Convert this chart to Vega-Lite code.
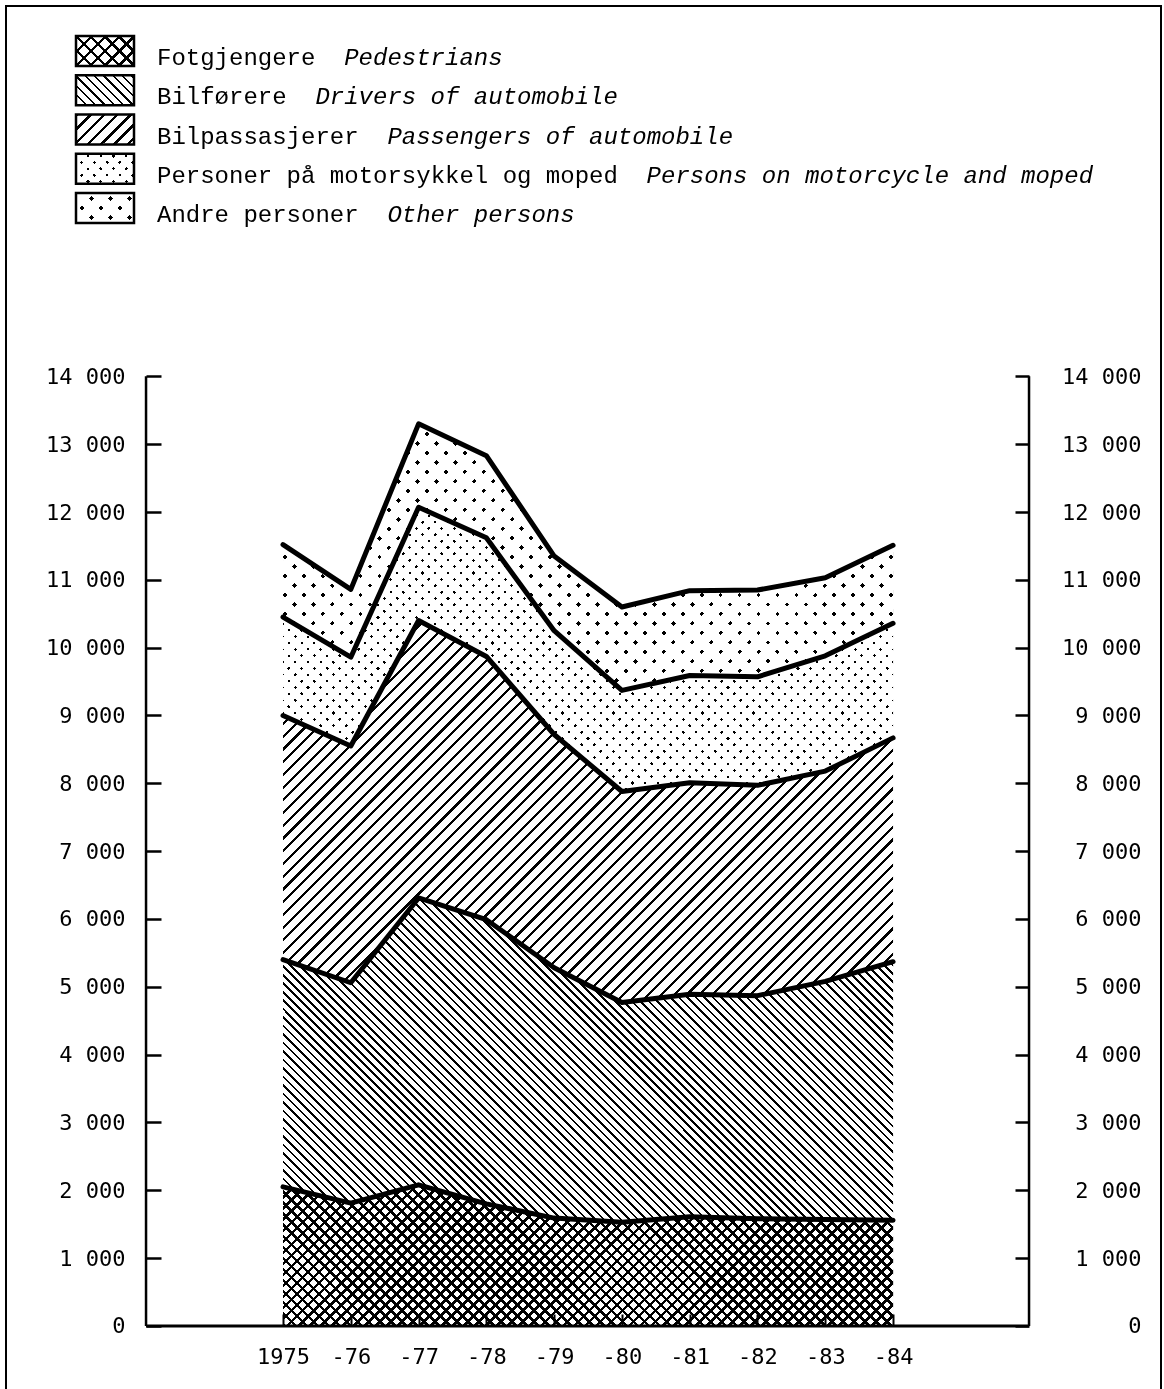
{
  "$schema": "https://vega.github.io/schema/vega-lite/v6.json",
  "width": 1155,
  "height": 1400,
  "autosize": {"type": "none"},
  "padding": {"left": 6, "top": 6, "right": 3, "bottom": 0},
  "background": "white",
  "config": {
    "view": {"stroke": "#000", "strokeWidth": 2},
    "axis": {"domain": false, "grid": false, "tickColor": "#000", "labelColor": "#000", "labelFont": "DejaVu Sans Mono", "labelFontSize": 22, "labelFlush": false}
  },
  "params": [
    {"name": "hs", "value": [
      {"offset":0,"color":"#fff"},{"offset":0,"color":"#000"},{"offset":0.002,"color":"#000"},{"offset":0.002,"color":"#fff"},
      {"offset":0.008,"color":"#fff"},{"offset":0.008,"color":"#000"},{"offset":0.01,"color":"#000"},{"offset":0.01,"color":"#fff"},
      {"offset":0.016,"color":"#fff"},{"offset":0.016,"color":"#000"},{"offset":0.018,"color":"#000"},{"offset":0.018,"color":"#fff"},
      {"offset":0.024,"color":"#fff"},{"offset":0.024,"color":"#000"},{"offset":0.026,"color":"#000"},{"offset":0.026,"color":"#fff"},
      {"offset":0.032,"color":"#fff"},{"offset":0.032,"color":"#000"},{"offset":0.034,"color":"#000"},{"offset":0.034,"color":"#fff"},
      {"offset":0.04,"color":"#fff"},{"offset":0.04,"color":"#000"},{"offset":0.042,"color":"#000"},{"offset":0.042,"color":"#fff"},
      {"offset":0.048,"color":"#fff"},{"offset":0.048,"color":"#000"},{"offset":0.05,"color":"#000"},{"offset":0.05,"color":"#fff"},
      {"offset":0.056,"color":"#fff"},{"offset":0.056,"color":"#000"},{"offset":0.058,"color":"#000"},{"offset":0.058,"color":"#fff"},
      {"offset":0.064,"color":"#fff"},{"offset":0.064,"color":"#000"},{"offset":0.066,"color":"#000"},{"offset":0.066,"color":"#fff"},
      {"offset":0.072,"color":"#fff"},{"offset":0.072,"color":"#000"},{"offset":0.074,"color":"#000"},{"offset":0.074,"color":"#fff"},
      {"offset":0.08,"color":"#fff"},{"offset":0.08,"color":"#000"},{"offset":0.082,"color":"#000"},{"offset":0.082,"color":"#fff"},
      {"offset":0.088,"color":"#fff"},{"offset":0.088,"color":"#000"},{"offset":0.09,"color":"#000"},{"offset":0.09,"color":"#fff"},
      {"offset":0.096,"color":"#fff"},{"offset":0.096,"color":"#000"},{"offset":0.098,"color":"#000"},{"offset":0.098,"color":"#fff"},
      {"offset":0.104,"color":"#fff"},{"offset":0.104,"color":"#000"},{"offset":0.106,"color":"#000"},{"offset":0.106,"color":"#fff"},
      {"offset":0.112,"color":"#fff"},{"offset":0.112,"color":"#000"},{"offset":0.114,"color":"#000"},{"offset":0.114,"color":"#fff"},
      {"offset":0.12,"color":"#fff"},{"offset":0.12,"color":"#000"},{"offset":0.122,"color":"#000"},{"offset":0.122,"color":"#fff"},
      {"offset":0.128,"color":"#fff"},{"offset":0.128,"color":"#000"},{"offset":0.13,"color":"#000"},{"offset":0.13,"color":"#fff"},
      {"offset":0.136,"color":"#fff"},{"offset":0.136,"color":"#000"},{"offset":0.138,"color":"#000"},{"offset":0.138,"color":"#fff"},
      {"offset":0.144,"color":"#fff"},{"offset":0.144,"color":"#000"},{"offset":0.146,"color":"#000"},{"offset":0.146,"color":"#fff"},
      {"offset":0.152,"color":"#fff"},{"offset":0.152,"color":"#000"},{"offset":0.154,"color":"#000"},{"offset":0.154,"color":"#fff"},
      {"offset":0.16,"color":"#fff"},{"offset":0.16,"color":"#000"},{"offset":0.162,"color":"#000"},{"offset":0.162,"color":"#fff"},
      {"offset":0.168,"color":"#fff"},{"offset":0.168,"color":"#000"},{"offset":0.17,"color":"#000"},{"offset":0.17,"color":"#fff"},
      {"offset":0.176,"color":"#fff"},{"offset":0.176,"color":"#000"},{"offset":0.178,"color":"#000"},{"offset":0.178,"color":"#fff"},
      {"offset":0.184,"color":"#fff"},{"offset":0.184,"color":"#000"},{"offset":0.186,"color":"#000"},{"offset":0.186,"color":"#fff"},
      {"offset":0.192,"color":"#fff"},{"offset":0.192,"color":"#000"},{"offset":0.194,"color":"#000"},{"offset":0.194,"color":"#fff"},
      {"offset":0.2,"color":"#fff"},{"offset":0.2,"color":"#000"},{"offset":0.202,"color":"#000"},{"offset":0.202,"color":"#fff"},
      {"offset":0.208,"color":"#fff"},{"offset":0.208,"color":"#000"},{"offset":0.21,"color":"#000"},{"offset":0.21,"color":"#fff"},
      {"offset":0.216,"color":"#fff"},{"offset":0.216,"color":"#000"},{"offset":0.218,"color":"#000"},{"offset":0.218,"color":"#fff"},
      {"offset":0.224,"color":"#fff"},{"offset":0.224,"color":"#000"},{"offset":0.226,"color":"#000"},{"offset":0.226,"color":"#fff"},
      {"offset":0.232,"color":"#fff"},{"offset":0.232,"color":"#000"},{"offset":0.234,"color":"#000"},{"offset":0.234,"color":"#fff"},
      {"offset":0.24,"color":"#fff"},{"offset":0.24,"color":"#000"},{"offset":0.242,"color":"#000"},{"offset":0.242,"color":"#fff"},
      {"offset":0.248,"color":"#fff"},{"offset":0.248,"color":"#000"},{"offset":0.25,"color":"#000"},{"offset":0.25,"color":"#fff"},
      {"offset":0.256,"color":"#fff"},{"offset":0.256,"color":"#000"},{"offset":0.258,"color":"#000"},{"offset":0.258,"color":"#fff"},
      {"offset":0.264,"color":"#fff"},{"offset":0.264,"color":"#000"},{"offset":0.266,"color":"#000"},{"offset":0.266,"color":"#fff"},
      {"offset":0.272,"color":"#fff"},{"offset":0.272,"color":"#000"},{"offset":0.274,"color":"#000"},{"offset":0.274,"color":"#fff"},
      {"offset":0.28,"color":"#fff"},{"offset":0.28,"color":"#000"},{"offset":0.282,"color":"#000"},{"offset":0.282,"color":"#fff"},
      {"offset":0.288,"color":"#fff"},{"offset":0.288,"color":"#000"},{"offset":0.29,"color":"#000"},{"offset":0.29,"color":"#fff"},
      {"offset":0.296,"color":"#fff"},{"offset":0.296,"color":"#000"},{"offset":0.298,"color":"#000"},{"offset":0.298,"color":"#fff"},
      {"offset":0.304,"color":"#fff"},{"offset":0.304,"color":"#000"},{"offset":0.306,"color":"#000"},{"offset":0.306,"color":"#fff"},
      {"offset":0.312,"color":"#fff"},{"offset":0.312,"color":"#000"},{"offset":0.314,"color":"#000"},{"offset":0.314,"color":"#fff"},
      {"offset":0.32,"color":"#fff"},{"offset":0.32,"color":"#000"},{"offset":0.322,"color":"#000"},{"offset":0.322,"color":"#fff"},
      {"offset":0.328,"color":"#fff"},{"offset":0.328,"color":"#000"},{"offset":0.33,"color":"#000"},{"offset":0.33,"color":"#fff"},
      {"offset":0.336,"color":"#fff"},{"offset":0.336,"color":"#000"},{"offset":0.338,"color":"#000"},{"offset":0.338,"color":"#fff"},
      {"offset":0.344,"color":"#fff"},{"offset":0.344,"color":"#000"},{"offset":0.346,"color":"#000"},{"offset":0.346,"color":"#fff"},
      {"offset":0.352,"color":"#fff"},{"offset":0.352,"color":"#000"},{"offset":0.354,"color":"#000"},{"offset":0.354,"color":"#fff"},
      {"offset":0.36,"color":"#fff"},{"offset":0.36,"color":"#000"},{"offset":0.362,"color":"#000"},{"offset":0.362,"color":"#fff"},
      {"offset":0.368,"color":"#fff"},{"offset":0.368,"color":"#000"},{"offset":0.37,"color":"#000"},{"offset":0.37,"color":"#fff"},
      {"offset":0.376,"color":"#fff"},{"offset":0.376,"color":"#000"},{"offset":0.378,"color":"#000"},{"offset":0.378,"color":"#fff"},
      {"offset":0.384,"color":"#fff"},{"offset":0.384,"color":"#000"},{"offset":0.386,"color":"#000"},{"offset":0.386,"color":"#fff"},
      {"offset":0.392,"color":"#fff"},{"offset":0.392,"color":"#000"},{"offset":0.394,"color":"#000"},{"offset":0.394,"color":"#fff"},
      {"offset":0.4,"color":"#fff"},{"offset":0.4,"color":"#000"},{"offset":0.402,"color":"#000"},{"offset":0.402,"color":"#fff"},
      {"offset":0.408,"color":"#fff"},{"offset":0.408,"color":"#000"},{"offset":0.41,"color":"#000"},{"offset":0.41,"color":"#fff"},
      {"offset":0.416,"color":"#fff"},{"offset":0.416,"color":"#000"},{"offset":0.418,"color":"#000"},{"offset":0.418,"color":"#fff"},
      {"offset":0.424,"color":"#fff"},{"offset":0.424,"color":"#000"},{"offset":0.426,"color":"#000"},{"offset":0.426,"color":"#fff"},
      {"offset":0.432,"color":"#fff"},{"offset":0.432,"color":"#000"},{"offset":0.434,"color":"#000"},{"offset":0.434,"color":"#fff"},
      {"offset":0.44,"color":"#fff"},{"offset":0.44,"color":"#000"},{"offset":0.442,"color":"#000"},{"offset":0.442,"color":"#fff"},
      {"offset":0.448,"color":"#fff"},{"offset":0.448,"color":"#000"},{"offset":0.45,"color":"#000"},{"offset":0.45,"color":"#fff"},
      {"offset":0.456,"color":"#fff"},{"offset":0.456,"color":"#000"},{"offset":0.458,"color":"#000"},{"offset":0.458,"color":"#fff"},
      {"offset":0.464,"color":"#fff"},{"offset":0.464,"color":"#000"},{"offset":0.466,"color":"#000"},{"offset":0.466,"color":"#fff"},
      {"offset":0.472,"color":"#fff"},{"offset":0.472,"color":"#000"},{"offset":0.474,"color":"#000"},{"offset":0.474,"color":"#fff"},
      {"offset":0.48,"color":"#fff"},{"offset":0.48,"color":"#000"},{"offset":0.482,"color":"#000"},{"offset":0.482,"color":"#fff"},
      {"offset":0.488,"color":"#fff"},{"offset":0.488,"color":"#000"},{"offset":0.49,"color":"#000"},{"offset":0.49,"color":"#fff"},
      {"offset":0.496,"color":"#fff"},{"offset":0.496,"color":"#000"},{"offset":0.498,"color":"#000"},{"offset":0.498,"color":"#fff"},
      {"offset":0.504,"color":"#fff"},{"offset":0.504,"color":"#000"},{"offset":0.506,"color":"#000"},{"offset":0.506,"color":"#fff"},
      {"offset":0.512,"color":"#fff"},{"offset":0.512,"color":"#000"},{"offset":0.514,"color":"#000"},{"offset":0.514,"color":"#fff"},
      {"offset":0.52,"color":"#fff"},{"offset":0.52,"color":"#000"},{"offset":0.522,"color":"#000"},{"offset":0.522,"color":"#fff"},
      {"offset":0.528,"color":"#fff"},{"offset":0.528,"color":"#000"},{"offset":0.53,"color":"#000"},{"offset":0.53,"color":"#fff"},
      {"offset":0.536,"color":"#fff"},{"offset":0.536,"color":"#000"},{"offset":0.538,"color":"#000"},{"offset":0.538,"color":"#fff"},
      {"offset":0.544,"color":"#fff"},{"offset":0.544,"color":"#000"},{"offset":0.546,"color":"#000"},{"offset":0.546,"color":"#fff"},
      {"offset":0.552,"color":"#fff"},{"offset":0.552,"color":"#000"},{"offset":0.554,"color":"#000"},{"offset":0.554,"color":"#fff"},
      {"offset":0.56,"color":"#fff"},{"offset":0.56,"color":"#000"},{"offset":0.562,"color":"#000"},{"offset":0.562,"color":"#fff"},
      {"offset":0.568,"color":"#fff"},{"offset":0.568,"color":"#000"},{"offset":0.57,"color":"#000"},{"offset":0.57,"color":"#fff"},
      {"offset":0.576,"color":"#fff"},{"offset":0.576,"color":"#000"},{"offset":0.578,"color":"#000"},{"offset":0.578,"color":"#fff"},
      {"offset":0.584,"color":"#fff"},{"offset":0.584,"color":"#000"},{"offset":0.586,"color":"#000"},{"offset":0.586,"color":"#fff"},
      {"offset":0.592,"color":"#fff"},{"offset":0.592,"color":"#000"},{"offset":0.594,"color":"#000"},{"offset":0.594,"color":"#fff"},
      {"offset":0.6,"color":"#fff"},{"offset":0.6,"color":"#000"},{"offset":0.602,"color":"#000"},{"offset":0.602,"color":"#fff"},
      {"offset":0.608,"color":"#fff"},{"offset":0.608,"color":"#000"},{"offset":0.61,"color":"#000"},{"offset":0.61,"color":"#fff"},
      {"offset":0.616,"color":"#fff"},{"offset":0.616,"color":"#000"},{"offset":0.618,"color":"#000"},{"offset":0.618,"color":"#fff"},
      {"offset":0.624,"color":"#fff"},{"offset":0.624,"color":"#000"},{"offset":0.626,"color":"#000"},{"offset":0.626,"color":"#fff"},
      {"offset":0.632,"color":"#fff"},{"offset":0.632,"color":"#000"},{"offset":0.634,"color":"#000"},{"offset":0.634,"color":"#fff"},
      {"offset":0.64,"color":"#fff"},{"offset":0.64,"color":"#000"},{"offset":0.642,"color":"#000"},{"offset":0.642,"color":"#fff"},
      {"offset":0.648,"color":"#fff"},{"offset":0.648,"color":"#000"},{"offset":0.65,"color":"#000"},{"offset":0.65,"color":"#fff"},
      {"offset":0.656,"color":"#fff"},{"offset":0.656,"color":"#000"},{"offset":0.658,"color":"#000"},{"offset":0.658,"color":"#fff"},
      {"offset":0.664,"color":"#fff"},{"offset":0.664,"color":"#000"},{"offset":0.666,"color":"#000"},{"offset":0.666,"color":"#fff"},
      {"offset":0.672,"color":"#fff"},{"offset":0.672,"color":"#000"},{"offset":0.674,"color":"#000"},{"offset":0.674,"color":"#fff"},
      {"offset":0.68,"color":"#fff"},{"offset":0.68,"color":"#000"},{"offset":0.682,"color":"#000"},{"offset":0.682,"color":"#fff"},
      {"offset":0.688,"color":"#fff"},{"offset":0.688,"color":"#000"},{"offset":0.69,"color":"#000"},{"offset":0.69,"color":"#fff"},
      {"offset":0.696,"color":"#fff"},{"offset":0.696,"color":"#000"},{"offset":0.698,"color":"#000"},{"offset":0.698,"color":"#fff"},
      {"offset":0.704,"color":"#fff"},{"offset":0.704,"color":"#000"},{"offset":0.706,"color":"#000"},{"offset":0.706,"color":"#fff"},
      {"offset":0.712,"color":"#fff"},{"offset":0.712,"color":"#000"},{"offset":0.714,"color":"#000"},{"offset":0.714,"color":"#fff"},
      {"offset":0.72,"color":"#fff"},{"offset":0.72,"color":"#000"},{"offset":0.722,"color":"#000"},{"offset":0.722,"color":"#fff"},
      {"offset":0.728,"color":"#fff"},{"offset":0.728,"color":"#000"},{"offset":0.73,"color":"#000"},{"offset":0.73,"color":"#fff"},
      {"offset":0.736,"color":"#fff"},{"offset":0.736,"color":"#000"},{"offset":0.738,"color":"#000"},{"offset":0.738,"color":"#fff"},
      {"offset":0.744,"color":"#fff"},{"offset":0.744,"color":"#000"},{"offset":0.746,"color":"#000"},{"offset":0.746,"color":"#fff"},
      {"offset":0.752,"color":"#fff"},{"offset":0.752,"color":"#000"},{"offset":0.754,"color":"#000"},{"offset":0.754,"color":"#fff"},
      {"offset":0.76,"color":"#fff"},{"offset":0.76,"color":"#000"},{"offset":0.762,"color":"#000"},{"offset":0.762,"color":"#fff"},
      {"offset":0.768,"color":"#fff"},{"offset":0.768,"color":"#000"},{"offset":0.77,"color":"#000"},{"offset":0.77,"color":"#fff"},
      {"offset":0.776,"color":"#fff"},{"offset":0.776,"color":"#000"},{"offset":0.778,"color":"#000"},{"offset":0.778,"color":"#fff"},
      {"offset":0.784,"color":"#fff"},{"offset":0.784,"color":"#000"},{"offset":0.786,"color":"#000"},{"offset":0.786,"color":"#fff"},
      {"offset":0.792,"color":"#fff"},{"offset":0.792,"color":"#000"},{"offset":0.794,"color":"#000"},{"offset":0.794,"color":"#fff"},
      {"offset":0.8,"color":"#fff"},{"offset":0.8,"color":"#000"},{"offset":0.802,"color":"#000"},{"offset":0.802,"color":"#fff"},
      {"offset":0.808,"color":"#fff"},{"offset":0.808,"color":"#000"},{"offset":0.81,"color":"#000"},{"offset":0.81,"color":"#fff"},
      {"offset":0.816,"color":"#fff"},{"offset":0.816,"color":"#000"},{"offset":0.818,"color":"#000"},{"offset":0.818,"color":"#fff"},
      {"offset":0.824,"color":"#fff"},{"offset":0.824,"color":"#000"},{"offset":0.826,"color":"#000"},{"offset":0.826,"color":"#fff"},
      {"offset":0.832,"color":"#fff"},{"offset":0.832,"color":"#000"},{"offset":0.834,"color":"#000"},{"offset":0.834,"color":"#fff"},
      {"offset":0.84,"color":"#fff"},{"offset":0.84,"color":"#000"},{"offset":0.842,"color":"#000"},{"offset":0.842,"color":"#fff"},
      {"offset":0.848,"color":"#fff"},{"offset":0.848,"color":"#000"},{"offset":0.85,"color":"#000"},{"offset":0.85,"color":"#fff"},
      {"offset":0.856,"color":"#fff"},{"offset":0.856,"color":"#000"},{"offset":0.858,"color":"#000"},{"offset":0.858,"color":"#fff"},
      {"offset":0.864,"color":"#fff"},{"offset":0.864,"color":"#000"},{"offset":0.866,"color":"#000"},{"offset":0.866,"color":"#fff"},
      {"offset":0.872,"color":"#fff"},{"offset":0.872,"color":"#000"},{"offset":0.874,"color":"#000"},{"offset":0.874,"color":"#fff"},
      {"offset":0.88,"color":"#fff"},{"offset":0.88,"color":"#000"},{"offset":0.882,"color":"#000"},{"offset":0.882,"color":"#fff"},
      {"offset":0.888,"color":"#fff"},{"offset":0.888,"color":"#000"},{"offset":0.89,"color":"#000"},{"offset":0.89,"color":"#fff"},
      {"offset":0.896,"color":"#fff"},{"offset":0.896,"color":"#000"},{"offset":0.898,"color":"#000"},{"offset":0.898,"color":"#fff"}
    ]}
  ],
  "datasets": {
    "d": [
      {"year":1975,"o":1,"n":2050},{"year":1975,"o":2,"n":3350},{"year":1975,"o":3,"n":3600},{"year":1975,"o":4,"n":1450},{"year":1975,"o":5,"n":1070},
      {"year":1976,"o":1,"n":1810},{"year":1976,"o":2,"n":3250},{"year":1976,"o":3,"n":3490},{"year":1976,"o":4,"n":1310},{"year":1976,"o":5,"n":1000},
      {"year":1977,"o":1,"n":2080},{"year":1977,"o":2,"n":4230},{"year":1977,"o":3,"n":4090},{"year":1977,"o":4,"n":1670},{"year":1977,"o":5,"n":1230},
      {"year":1978,"o":1,"n":1800},{"year":1978,"o":2,"n":4190},{"year":1978,"o":3,"n":3880},{"year":1978,"o":4,"n":1750},{"year":1978,"o":5,"n":1210},
      {"year":1979,"o":1,"n":1590},{"year":1979,"o":2,"n":3690},{"year":1979,"o":3,"n":3440},{"year":1979,"o":4,"n":1530},{"year":1979,"o":5,"n":1100},
      {"year":1980,"o":1,"n":1530},{"year":1980,"o":2,"n":3240},{"year":1980,"o":3,"n":3110},{"year":1980,"o":4,"n":1490},{"year":1980,"o":5,"n":1230},
      {"year":1981,"o":1,"n":1610},{"year":1981,"o":2,"n":3280},{"year":1981,"o":3,"n":3120},{"year":1981,"o":4,"n":1580},{"year":1981,"o":5,"n":1250},
      {"year":1982,"o":1,"n":1580},{"year":1982,"o":2,"n":3290},{"year":1982,"o":3,"n":3100},{"year":1982,"o":4,"n":1600},{"year":1982,"o":5,"n":1280},
      {"year":1983,"o":1,"n":1570},{"year":1983,"o":2,"n":3510},{"year":1983,"o":3,"n":3100},{"year":1983,"o":4,"n":1700},{"year":1983,"o":5,"n":1150},
      {"year":1984,"o":1,"n":1560},{"year":1984,"o":2,"n":3810},{"year":1984,"o":3,"n":3300},{"year":1984,"o":4,"n":1690},{"year":1984,"o":5,"n":1150}
    ],
    "leg": [
      {"o":1,"no":"Fotgjengere","en":"Pedestrians"},
      {"o":2,"no":"Bilførere","en":"Drivers of automobile"},
      {"o":3,"no":"Bilpassasjerer","en":"Passengers of automobile"},
      {"o":4,"no":"Personer på motorsykkel og moped","en":"Persons on motorcycle and moped"},
      {"o":5,"no":"Andre personer","en":"Other persons"}
    ]
  },
  "layer": [
    {
      "data": {"name": "d"},
      "transform": [
        {"stack": "n", "groupby": ["year"], "sort": [{"field": "o", "order": "ascending"}], "as": ["lo", "hi"]}
      ],
      "encoding": {
        "x": {"field": "year", "type": "quantitative",
          "scale": {"domain": [1970.913, 1987.953], "nice": false, "zero": false},
          "axis": {"orient": "bottom", "offset": -92, "values": [1975,1976,1977,1978,1979,1980,1981,1982,1983,1984],
            "labelExpr": "datum.value == 1975 ? '1975' : '-' + slice(toString(datum.value), 2)",
            "tickSize": 12, "tickWidth": 2, "labelPadding": 20, "zindex": 1, "title": null}},
        "y": {"field": "hi", "type": "quantitative",
          "scale": {"domain": [-1180, 19460], "nice": false, "zero": false},
          "axis": {"orient": "left", "offset": -155, "values": [0,1000,2000,3000,4000,5000,6000,7000,8000,9000,10000,11000,12000,13000,14000],
            "labelExpr": "replace(format(datum.value, ','), ',', ' ')",
            "tickSize": 15, "tickWidth": 2.5, "labelPadding": 21, "title": null}}
      },
      "layer": [
        {"transform": [{"filter": "datum.o == 1"}],
         "mark": {"type": "area", "fill": {"expr": "{gradient: 'linear', x1: 0, y1: 0, x2: 2.1455, y2: 0.4962, stops: hs}"}},
         "encoding": {"y2": {"field": "lo"}}},
        {"transform": [{"filter": "datum.o == 1"}],
         "mark": {"type": "area", "blend": "multiply", "fill": {"expr": "{gradient: 'linear', x1: 0.0015, y1: 0, x2: 2.147, y2: 0.4962, stops: hs}"}},
         "encoding": {"y2": {"field": "lo"}}},
        {"transform": [{"filter": "datum.o == 1"}],
         "mark": {"type": "area", "blend": "multiply", "fill": {"expr": "{gradient: 'linear', x1: 0, y1: 1, x2: 2.1455, y2: 0.5038, stops: hs}"}},
         "encoding": {"y2": {"field": "lo"}}},
        {"transform": [{"filter": "datum.o == 1"}],
         "mark": {"type": "area", "blend": "multiply", "fill": {"expr": "{gradient: 'linear', x1: 0.0015, y1: 1, x2: 2.147, y2: 0.5038, stops: hs}"}},
         "encoding": {"y2": {"field": "lo"}}},
        {"transform": [{"filter": "datum.o == 2"}],
         "mark": {"type": "area", "fill": {"expr": "{gradient: 'linear', x1: 0, y1: 1, x2: 1.3558, y2: 0.2795, stops: hs}"}},
         "encoding": {"y2": {"field": "lo"}}},
        {"transform": [{"filter": "datum.o == 2"}],
         "mark": {"type": "area", "blend": "multiply", "fill": {"expr": "{gradient: 'linear', x1: 0.0008, y1: 1, x2: 1.3566, y2: 0.2795, stops: hs}"}},
         "encoding": {"y2": {"field": "lo"}}},
        {"transform": [{"filter": "datum.o == 3"}],
         "mark": {"type": "area", "fill": {"expr": "{gradient: 'linear', x1: 0, y1: 0, x2: 1.8737, y2: 1.173, stops: hs}"}},
         "encoding": {"y2": {"field": "lo"}}},
        {"transform": [{"filter": "datum.o == 4"}],
         "mark": {"type": "area", "fill": {"expr": "{gradient: 'linear', x1: 0, y1: 0, x2: 2.1429, y2: 0.9983, stops: hs}"}},
         "encoding": {"y2": {"field": "lo"}}},
        {"transform": [{"filter": "datum.o == 4"}],
         "mark": {"type": "area", "blend": "lighten", "fill": {"expr": "{gradient: 'linear', x1: 0, y1: 1, x2: 2.1429, y2: 0.0017, stops: hs}"}},
         "encoding": {"y2": {"field": "lo"}}},
        {"transform": [{"filter": "datum.o == 5"}],
         "mark": {"type": "area", "fill": {"expr": "{gradient: 'linear', x1: 0, y1: 0, x2: 3.2604, y2: 1.4247, stops: hs}"}},
         "encoding": {"y2": {"field": "lo"}}},
        {"transform": [{"filter": "datum.o == 5"}],
         "mark": {"type": "area", "blend": "lighten", "fill": {"expr": "{gradient: 'linear', x1: 0, y1: 1, x2: 3.2604, y2: -0.4247, stops: hs}"}},
         "encoding": {"y2": {"field": "lo"}}},
        {"mark": {"type": "line", "stroke": "#000", "strokeWidth": 5, "strokeCap": "round", "strokeJoin": "round"},
         "encoding": {"detail": {"field": "o", "type": "nominal"}}}
      ]
    },
    {
      "data": {"values": [{}]},
      "encoding": {
        "y": {"datum": 0, "type": "quantitative",
          "scale": {"domain": [-1180, 19460], "nice": false, "zero": false},
          "axis": {"orient": "right", "offset": -146, "values": [0,1000,2000,3000,4000,5000,6000,7000,8000,9000,10000,11000,12000,13000,14000],
            "labelExpr": "replace(format(datum.value, ','), ',', ' ')",
            "tickSize": 14, "tickWidth": 2.5, "labelPadding": 112, "labelAlign": "right", "title": null}}
      },
      "layer": [
        {"mark": {"type": "rule", "stroke": "#000", "strokeWidth": 2.5},
         "encoding": {
           "x": {"datum": 1972.979, "type": "quantitative", "scale": {"domain": [1970.913, 1987.953], "nice": false, "zero": false}, "axis": null},
           "y2": {"datum": 14000}}},
        {"mark": {"type": "rule", "stroke": "#000", "strokeWidth": 2.5},
         "encoding": {
           "x": {"datum": 1986.006, "type": "quantitative", "scale": {"domain": [1970.913, 1987.953], "nice": false, "zero": false}, "axis": null},
           "y2": {"datum": 14000}}},
        {"mark": {"type": "rule", "stroke": "#000", "strokeWidth": 3},
         "encoding": {
           "x": {"datum": 1972.979, "type": "quantitative", "scale": {"domain": [1970.913, 1987.953], "nice": false, "zero": false}, "axis": null},
           "x2": {"datum": 1986.006}}}
      ]
    },
    {
      "data": {"name": "leg"},
      "encoding": {
        "x": {"datum": 99, "type": "quantitative", "scale": {"domain": [0, 1155], "nice": false, "zero": false}, "axis": null},
        "y": {"field": "o", "type": "quantitative", "scale": {"domain": [-0.1465, 35.52], "nice": false, "zero": false, "reverse": true}, "axis": null}
      },
      "layer": [
        {"transform": [{"filter": "datum.o == 1"}],
         "mark": {"type": "point", "shape": "M-1,-0.517H1V0.517H-1Z", "size": 3364, "filled": true, "opacity": 1, "strokeWidth": 0,
           "fill": {"expr": "{gradient: 'linear', x1: 0, y1: 0, x2: 24.046, y2: 12.437, stops: hs}"}}},
        {"transform": [{"filter": "datum.o == 1"}],
         "mark": {"type": "point", "shape": "M-1,-0.517H1V0.517H-1Z", "size": 3364, "filled": true, "opacity": 1, "strokeWidth": 0, "blend": "multiply",
           "fill": {"expr": "{gradient: 'linear', x1: 0, y1: 1, x2: 24.046, y2: -11.437, stops: hs}"}}},
        {"transform": [{"filter": "datum.o == 2"}],
         "mark": {"type": "point", "shape": "M-1,-0.517H1V0.517H-1Z", "size": 3364, "filled": true, "opacity": 1, "strokeWidth": 0,
           "fill": {"expr": "{gradient: 'linear', x1: 0, y1: 1, x2: 15.87, y2: -7.209, stops: hs}"}}},
        {"transform": [{"filter": "datum.o == 3"}],
         "mark": {"type": "point", "shape": "M-1,-0.517H1V0.517H-1Z", "size": 3364, "filled": true, "opacity": 1, "strokeWidth": 0,
           "fill": {"expr": "{gradient: 'linear', x1: 0, y1: 0, x2: 22.603, y2: 11.691, stops: hs}"}}},
        {"transform": [{"filter": "datum.o == 4"}],
         "mark": {"type": "point", "shape": "M-1,-0.517H1V0.517H-1Z", "size": 3364, "filled": true, "opacity": 1, "strokeWidth": 0,
           "fill": {"expr": "{gradient: 'linear', x1: 0, y1: 0, x2: 21.641, y2: 11.194, stops: hs}"}}},
        {"transform": [{"filter": "datum.o == 4"}],
         "mark": {"type": "point", "shape": "M-1,-0.517H1V0.517H-1Z", "size": 3364, "filled": true, "opacity": 1, "strokeWidth": 0, "blend": "lighten",
           "fill": {"expr": "{gradient: 'linear', x1: 0, y1: 1, x2: 21.641, y2: -10.194, stops: hs}"}}},
        {"transform": [{"filter": "datum.o == 5"}],
         "mark": {"type": "point", "shape": "M-1,-0.517H1V0.517H-1Z", "size": 3364, "filled": true, "opacity": 1, "strokeWidth": 0,
           "fill": {"expr": "{gradient: 'linear', x1: 0, y1: 0, x2: 32.22, y2: 16.666, stops: hs}"}}},
        {"transform": [{"filter": "datum.o == 5"}],
         "mark": {"type": "point", "shape": "M-1,-0.517H1V0.517H-1Z", "size": 3364, "filled": true, "opacity": 1, "strokeWidth": 0, "blend": "lighten",
           "fill": {"expr": "{gradient: 'linear', x1: 0, y1: 1, x2: 32.22, y2: -15.666, stops: hs}"}}},
        {"mark": {"type": "point", "shape": "M-1,-0.517H1V0.517H-1Z", "size": 3364, "filled": false, "opacity": 1, "stroke": "#000", "strokeWidth": 2.5}},
        {"mark": {"type": "text", "align": "left", "baseline": "alphabetic", "dy": 14, "font": "Liberation Mono", "fontSize": 24, "fill": "#000"},
         "encoding": {
           "x": {"datum": 151, "type": "quantitative", "scale": {"domain": [0, 1155], "nice": false, "zero": false}, "axis": null},
           "text": {"field": "no"}}},
        {"transform": [{"filter": "datum.o == 1"}],
         "mark": {"type": "text", "align": "left", "baseline": "alphabetic", "dy": 14, "font": "Liberation Mono", "fontSize": 24, "fontStyle": "italic", "fill": "#000"},
         "encoding": {
           "x": {"datum": 338.2, "type": "quantitative", "scale": {"domain": [0, 1155], "nice": false, "zero": false}, "axis": null},
           "text": {"field": "en"}}},
        {"transform": [{"filter": "datum.o == 2"}],
         "mark": {"type": "text", "align": "left", "baseline": "alphabetic", "dy": 14, "font": "Liberation Mono", "fontSize": 24, "fontStyle": "italic", "fill": "#000"},
         "encoding": {
           "x": {"datum": 309.4, "type": "quantitative", "scale": {"domain": [0, 1155], "nice": false, "zero": false}, "axis": null},
           "text": {"field": "en"}}},
        {"transform": [{"filter": "datum.o == 3 || datum.o == 5"}],
         "mark": {"type": "text", "align": "left", "baseline": "alphabetic", "dy": 14, "font": "Liberation Mono", "fontSize": 24, "fontStyle": "italic", "fill": "#000"},
         "encoding": {
           "x": {"datum": 381.4, "type": "quantitative", "scale": {"domain": [0, 1155], "nice": false, "zero": false}, "axis": null},
           "text": {"field": "en"}}},
        {"transform": [{"filter": "datum.o == 4"}],
         "mark": {"type": "text", "align": "left", "baseline": "alphabetic", "dy": 14, "font": "Liberation Mono", "fontSize": 24, "fontStyle": "italic", "fill": "#000"},
         "encoding": {
           "x": {"datum": 640.6, "type": "quantitative", "scale": {"domain": [0, 1155], "nice": false, "zero": false}, "axis": null},
           "text": {"field": "en"}}}
      ]
    }
  ],
  "resolve": {"scale": {"x": "independent", "y": "independent"}}
}
